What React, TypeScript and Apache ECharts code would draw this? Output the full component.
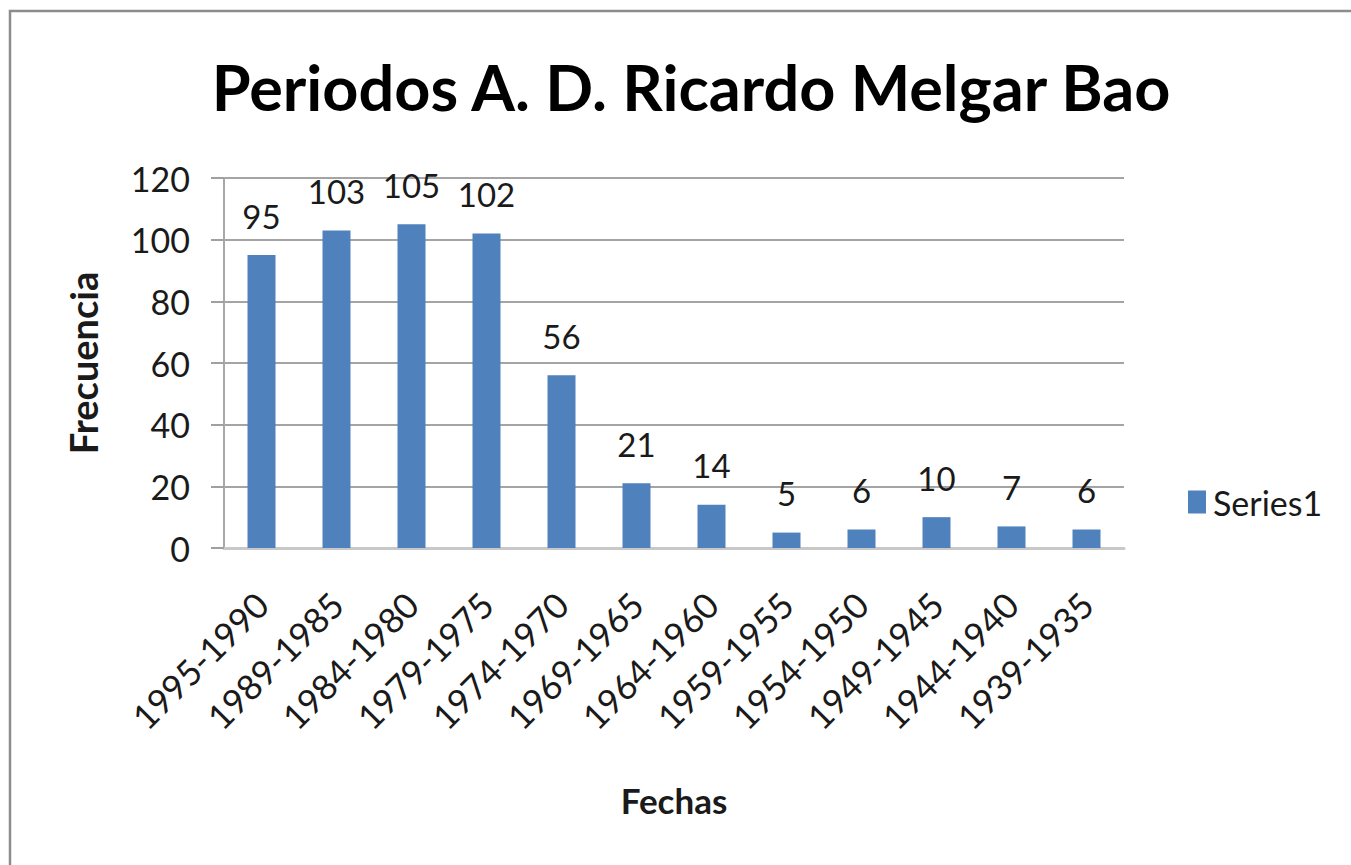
import React, { useEffect, useRef } from "react";
import * as echarts from "echarts";

const categories = [
  "1995-1990", "1989-1985", "1984-1980", "1979-1975", "1974-1970", "1969-1965",
  "1964-1960", "1959-1955", "1954-1950", "1949-1945", "1944-1940", "1939-1935",
];
const values = [95, 103, 105, 102, 56, 21, 14, 5, 6, 10, 7, 6];
const titleText = "Periodos A. D. Ricardo Melgar Bao";
const seriesName = "Series1";

const FONT = "Lato";

export default function App() {
  const ref = useRef<HTMLDivElement>(null);
  useEffect(() => {
    if (!ref.current) return;
    const chart = echarts.init(ref.current, null, { renderer: "svg" });
    chart.setOption({
      animation: false,
      textStyle: { fontFamily: FONT, color: "#1a1a1a" },
      title: {
        text: titleText,
        left: 686,
        top: 50,
        textAlign: "center",
        textStyle: { fontFamily: FONT, fontSize: 63, fontWeight: "bold", color: "#000" },
      },
      graphic: [
        {
          type: "rect",
          shape: { x: 10, y: 11, width: 1400, height: 900 },
          style: { fill: "none", stroke: "#8c8c8c", lineWidth: 2.5 },
          silent: true,
        },
      ],
      legend: {
        data: [seriesName],
        left: 1183,
        top: 480,
        icon: "rect",
        itemWidth: 18,
        itemHeight: 23,
        itemGap: 8,
        textStyle: { fontFamily: FONT, fontSize: 34, color: "#1a1a1a", padding: [0, 0, 0, 2] },
      },
      grid: { left: 224, top: 178, width: 900, height: 370 },
      xAxis: {
        type: "category",
        data: categories,
        name: "Fechas",
        nameLocation: "middle",
        nameGap: 234,
        nameTextStyle: { fontFamily: FONT, fontSize: 35, fontWeight: "bold", color: "#1a1a1a" },
        axisLine: { lineStyle: { color: "#c8c8c8", width: 3 } },
        axisTick: { show: false },
        axisLabel: {
          rotate: 45,
          margin: 50,
          fontSize: 35,
          color: "#1a1a1a",
          fontFamily: FONT,
          interval: 0,
        },
      },
      yAxis: {
        type: "value",
        min: 0,
        max: 120,
        interval: 20,
        name: "Frecuencia",
        nameLocation: "middle",
        nameGap: 122,
        nameTextStyle: { fontFamily: FONT, fontSize: 38, fontWeight: "bold", color: "#1a1a1a" },
        axisLine: { show: true, lineStyle: { color: "#a8a8a8", width: 2 } },
        axisTick: { show: true, length: 13, lineStyle: { color: "#a0a0a0", width: 2 } },
        splitLine: { lineStyle: { color: "#a4a4a4", width: 2 } },
        axisLabel: { fontSize: 34, color: "#1a1a1a", fontFamily: FONT, margin: 34 },
      },
      series: [
        {
          name: seriesName,
          type: "bar",
          data: values,
          barWidth: 28,
          itemStyle: { color: "#4f81bd" },
          label: {
            show: true,
            position: "top",
            distance: 23,
            fontSize: 33,
            color: "#1a1a1a",
            fontFamily: FONT,
          },
        },
      ],
    });
    return () => chart.dispose();
  }, []);
  return (
    <div
      ref={ref}
      style={{ position: "fixed", left: 0, top: 0, width: 1351, height: 865, background: "#fff" }}
    />
  );
}
